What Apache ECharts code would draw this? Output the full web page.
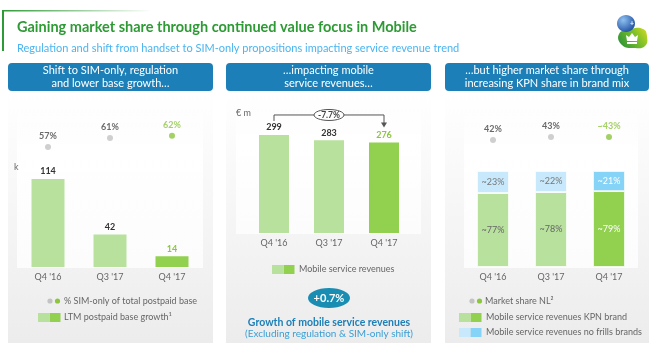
<!DOCTYPE html>
<html>
<head>
<meta charset="utf-8">
<script src="https://cdn.jsdelivr.net/npm/echarts@6/dist/echarts.min.js"></script>
<style>
  html, body { margin: 0; padding: 0; background: #ffffff; }
  #chart { width: 656px; height: 348px; }
</style>
</head>
<body>
<div id="chart"></div>
<script>
// ---- data ----
const categories = ["Q4 '16", "Q3 '17", "Q4 '17"];
const postpaidGrowth = [114, 42, 14];          // LTM postpaid base growth, k
const simOnlyShare = [57, 61, 62];             // % SIM-only of total postpaid base
const serviceRevenue = [299, 283, 276];        // mobile service revenues, EUR m
const revenueChange = '-7.7%';
const growthExRegulation = '+0.7%';
const marketShare = [42, 43, 43];              // market share NL, %
const marketShareLabels = ['42%', '43%', '~43%'];
const kpnBrandShare = [77, 78, 79];            // % of service revenues, KPN brand
const noFrillsShare = [23, 22, 21];            // % of service revenues, no frills brands

// ---- palette ----
const LIGHT_GREEN = '#b7e19d';
const GREEN = '#92d050';
const LABEL_GREEN = '#8cc63f';
const DOT_GREY = '#c3c3c3';
const LIGHT_BLUE = '#c8e9fb';
const BLUE = '#86d3f8';
const HEADER_BLUE = '#1c7fb7';
const FONT = 'Lato, "Noto Sans", sans-serif';

const last = categories.length - 1;

function barItems(values, light, dark, labelColor) {
  return values.map((v, i) => ({
    value: v,
    itemStyle: { color: i === last ? dark : light },
    label: { color: i === last ? LABEL_GREEN : labelColor }
  }));
}
function dotItems(values, labels) {
  return values.map((v, i) => ({
    value: v,
    itemStyle: { color: i === last ? LABEL_GREEN : DOT_GREY },
    label: { formatter: labels ? labels[i] : v + '%', color: i === last ? LABEL_GREEN : '#444' }
  }));
}

const catAxis = (gridIndex, showLabels) => ({
  type: 'category', gridIndex, data: categories,
  axisLine: { show: false }, axisTick: { show: false }, splitLine: { show: false },
  axisLabel: { show: showLabels, color: '#666', fontSize: 9, fontFamily: FONT, margin: 6 }
});
const valAxis = (gridIndex, min, max) => ({
  type: 'value', gridIndex, min, max, show: false, splitLine: { show: false }
});

// ---- panel frames, headers, legends ----
function panel(x, w, header) {
  return [
    { type: 'rect', z: -10, shape: { x, y: 92, width: w, height: 251 },
      style: { fill: new echarts.graphic.LinearGradient(0, 0, 0, 1, [
        { offset: 0, color: '#ffffff' }, { offset: 1, color: '#ececec' }]) } },
    { type: 'rect', z: 10, shape: { x, y: 63, width: w, height: 28, r: 4 },
      style: { fill: HEADER_BLUE } },
    { type: 'text', z: 11, x: x + w / 2, y: 77,
      style: { text: header, fill: '#ffffff', font: '11px ' + FONT, align: 'center',
               verticalAlign: 'middle', lineHeight: 13.5 } }
  ];
}
function innerArea(x, y, w, h) {
  return { type: 'rect', z: -9, shape: { x, y, width: w, height: h },
    style: { fill: new echarts.graphic.LinearGradient(0, 0, 0, 1, [
      { offset: 0, color: 'rgba(255,255,255,0)' }, { offset: 0.3, color: '#ffffff' },
      { offset: 1, color: '#fcfcfc' }]) } };
}
function swatch(x, y, colors) {
  return colors.map((c, i) => ({ type: 'rect', z: 10,
    shape: { x: x + i * 11.5, y, width: 11, height: 9 }, style: { fill: c } }));
}
function legendText(x, y, text) {
  return { type: 'text', z: 10, x, y,
    style: { text, fill: '#666', font: '9px ' + FONT, verticalAlign: 'middle' } };
}
function legendDots(x, y) {
  return [DOT_GREY, LABEL_GREEN].map((c, i) => ({ type: 'circle', z: 10,
    shape: { cx: x + i * 7.5, cy: y, r: 2.6 }, style: { fill: c } }));
}

// KPN logo mark
const logo = [
  { type: 'polygon', z: 10, shape: { smooth: 0.5, points:
      [[619, 34], [622, 45], [634, 48], [645, 46], [647, 36], [643, 29], [631, 29]] },
    style: { fill: new echarts.graphic.LinearGradient(0, 1, 1, 0, [
      { offset: 0, color: '#1f8c3a' }, { offset: 0.6, color: '#7cbf2a' }, { offset: 1, color: '#d8dc1e' }]) } },
  { type: 'ellipse', z: 11, shape: { cx: 626, cy: 23.5, rx: 9, ry: 8.5 },
    style: { fill: new echarts.graphic.RadialGradient(0.35, 0.3, 0.8, [
      { offset: 0, color: '#8fc0f0' }, { offset: 1, color: '#1a4c9e' }]) } },
  { type: 'text', z: 12, x: 632, y: 24, style: { text: '+', fill: '#fff', font: 'bold 7px ' + FONT,
      align: 'center', verticalAlign: 'middle' } },
  { type: 'polygon', z: 12, shape: { points:
      [[627, 41], [626, 35], [629, 37], [632, 33], [635, 37], [638, 35], [637, 41]] },
    style: { fill: '#ffffff' } },
  { type: 'rect', z: 12, shape: { x: 627, y: 42, width: 10, height: 2 }, style: { fill: '#ffffff' } }
];

const option = {
  backgroundColor: '#ffffff',
  animation: false,
  textStyle: { fontFamily: FONT },
  title: [
    { text: 'Gaining market share through continued value focus in Mobile', left: 12, top: 15,
      textStyle: { color: '#2e9a35', fontSize: 14.5, fontWeight: 'bold', fontFamily: FONT } },
    { text: 'Regulation and shift from handset to SIM-only propositions impacting service revenue trend',
      left: 12, top: 38,
      textStyle: { color: '#4ab5f0', fontSize: 11, fontWeight: 'normal', fontFamily: FONT } }
  ],
  grid: [
    { left: 17, top: 162.8, width: 186, height: 104.2 },   // panel 1 bars
    { left: 17, top: 117.75, width: 186, height: 45 },     // panel 1 dots
    { left: 246.5, top: 128.1, width: 165, height: 104.9 },// panel 2 bars
    { left: 464, top: 116, width: 174, height: 60 },       // panel 3 dots
    { left: 464, top: 171, width: 174, height: 96 }        // panel 3 stacked bars
  ],
  xAxis: [catAxis(0, true), catAxis(1, false), catAxis(2, true), catAxis(3, false), catAxis(4, true)],
  yAxis: [valAxis(0, 0, 135), valAxis(1, 50, 70), valAxis(2, 0, 320), valAxis(3, 30, 50), valAxis(4, 0, 100)],
  series: [
    { name: 'LTM postpaid base growth', type: 'bar', xAxisIndex: 0, yAxisIndex: 0, barWidth: 33,
      data: barItems(postpaidGrowth, LIGHT_GREEN, GREEN, '#333'),
      label: { show: true, position: 'top', distance: 3, fontSize: 9, fontWeight: 'bold', fontFamily: FONT } },
    { name: '% SIM-only of total postpaid base', type: 'scatter', xAxisIndex: 1, yAxisIndex: 1,
      symbolSize: 6, data: dotItems(simOnlyShare),
      label: { show: true, position: 'top', distance: 3, fontSize: 9, fontWeight: 'bold', fontFamily: FONT } },
    { name: 'Mobile service revenues', type: 'bar', xAxisIndex: 2, yAxisIndex: 2, barWidth: 30,
      data: barItems(serviceRevenue, LIGHT_GREEN, GREEN, '#333'),
      label: { show: true, position: 'top', distance: 3, fontSize: 9, fontWeight: 'bold', fontFamily: FONT } },
    { name: 'Market share NL', type: 'scatter', xAxisIndex: 3, yAxisIndex: 3,
      symbolSize: 6, data: dotItems(marketShare, marketShareLabels),
      label: { show: true, position: 'top', distance: 3, fontSize: 9, fontWeight: 'bold', fontFamily: FONT } },
    { name: 'Mobile service revenues KPN brand', type: 'bar', stack: 'mix', xAxisIndex: 4, yAxisIndex: 4,
      barWidth: 32,
      data: kpnBrandShare.map((v, i) => ({ value: v,
        itemStyle: { color: i === last ? GREEN : LIGHT_GREEN },
        label: { color: i === last ? '#ffffff' : '#666' } })),
      itemStyle: { borderColor: '#ffffff', borderWidth: 0.8 },
      label: { show: true, position: 'inside', formatter: '~{c}%', fontSize: 9, fontFamily: FONT } },
    { name: 'Mobile service revenues no frills brands', type: 'bar', stack: 'mix', xAxisIndex: 4, yAxisIndex: 4,
      barWidth: 32,
      data: noFrillsShare.map((v, i) => ({ value: v,
        itemStyle: { color: i === last ? BLUE : LIGHT_BLUE },
        label: { color: i === last ? '#ffffff' : '#777' } })),
      itemStyle: { borderColor: '#ffffff', borderWidth: 0.8 },
      label: { show: true, position: 'inside', formatter: '~{c}%', fontSize: 9, fontFamily: FONT } }
  ]
};

const chart = echarts.init(document.getElementById('chart'), null, { renderer: 'canvas' });
chart.setOption(option);

// annotations that depend on the bar positions
const p0 = chart.convertToPixel({ gridIndex: 2 }, [0, serviceRevenue[0]]);
const p2 = chart.convertToPixel({ gridIndex: 2 }, [last, serviceRevenue[last]]);
const bracketY = p0[1] - 20;
const midX = (p0[0] + p2[0]) / 2;

const graphics = [].concat(
  // title rule
  [{ type: 'rect', z: 10, shape: { x: 2, y: 10, width: 2, height: 41 }, style: { fill: '#2e9a35' } },
   { type: 'rect', z: 10, shape: { x: 2, y: 10, width: 150, height: 1.5 },
     style: { fill: new echarts.graphic.LinearGradient(0, 0, 1, 0, [
       { offset: 0, color: '#2e9a35' }, { offset: 1, color: 'rgba(46,154,53,0)' }]) } }],
  logo,
  panel(8, 205, 'Shift to SIM-only, regulation\nand lower base growth…'),
  panel(226, 205, '…impacting mobile\nservice revenues…'),
  panel(445, 204, '…but higher market share through\nincreasing KPN share in brand mix'),
  [innerArea(17, 100, 186, 168), innerArea(236, 100, 185, 134), innerArea(464, 100, 174, 168)],
  // unit labels
  [{ type: 'text', z: 10, x: 14, y: 167, style: { text: 'k', fill: '#666', font: '9px ' + FONT, verticalAlign: 'middle' } },
   { type: 'text', z: 10, x: 236, y: 113, style: { text: '€ m', fill: '#666', font: '9px ' + FONT, verticalAlign: 'middle' } }],
  // change bracket
  [{ type: 'polyline', z: 10, shape: { points: [[p0[0], p0[1] - 14], [p0[0], bracketY], [p2[0], bracketY], [p2[0], p2[1] - 19]] },
     style: { stroke: '#555', lineWidth: 1, fill: null } },
   { type: 'polygon', z: 10, shape: { points: [[p2[0] - 3, p2[1] - 20], [p2[0] + 3, p2[1] - 20], [p2[0], p2[1] - 15]] },
     style: { fill: '#555' } },
   { type: 'ellipse', z: 11, shape: { cx: midX, cy: bracketY, rx: 15, ry: 5.5 },
     style: { fill: '#ffffff', stroke: '#555', lineWidth: 1 } },
   { type: 'text', z: 12, x: midX, y: bracketY, style: { text: revenueChange, fill: '#444',
     font: 'bold 8.5px ' + FONT, align: 'center', verticalAlign: 'middle' } }],
  // growth excluding regulation
  [{ type: 'ellipse', z: 10, shape: { cx: 329, cy: 298, rx: 21, ry: 10 }, style: { fill: '#1a8db3' } },
   { type: 'text', z: 11, x: 329, y: 298, style: { text: growthExRegulation, fill: '#ffffff',
     font: 'bold 11px ' + FONT, align: 'center', verticalAlign: 'middle' } },
   { type: 'text', z: 10, x: 329, y: 323, style: { text: 'Growth of mobile service revenues', fill: '#1c7fb7',
     font: 'bold 10.5px ' + FONT, align: 'center', verticalAlign: 'middle' } },
   { type: 'text', z: 10, x: 329, y: 334, style: { text: '(Excluding regulation & SIM-only shift)', fill: '#3a9fd6',
     font: '10px ' + FONT, align: 'center', verticalAlign: 'middle' } }],
  // legends
  legendDots(50, 301), [legendText(64, 301, '% SIM-only of total postpaid base')],
  swatch(38, 313, [LIGHT_GREEN, GREEN]), [legendText(64, 317.5, 'LTM postpaid base growth¹')],
  swatch(272, 265, [LIGHT_GREEN, GREEN]), [legendText(299, 269.5, 'Mobile service revenues')],
  legendDots(472, 301), [legendText(485, 301, 'Market share NL²')],
  swatch(459, 313, [LIGHT_GREEN, GREEN]), [legendText(486, 317.5, 'Mobile service revenues KPN brand')],
  swatch(459, 328, [LIGHT_BLUE, BLUE]), [legendText(486, 332.5, 'Mobile service revenues no frills brands')]
);

chart.setOption({ graphic: graphics });
</script>
</body>
</html>
